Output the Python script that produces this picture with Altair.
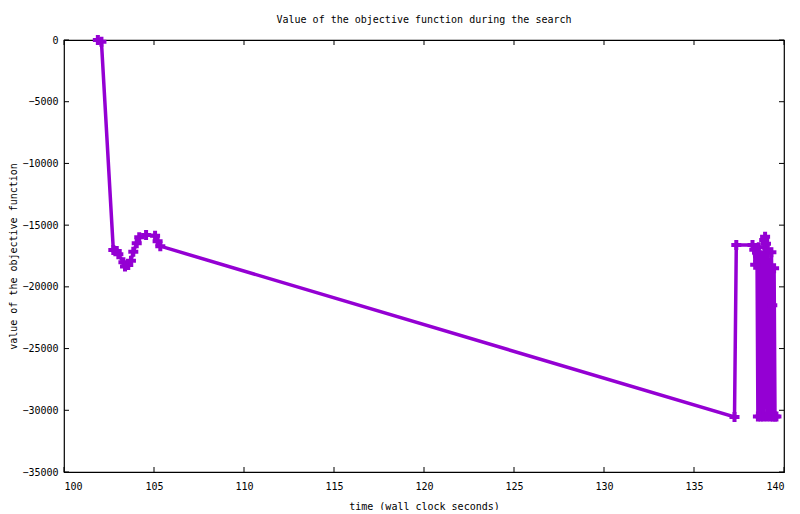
import altair as alt
import pandas as pd

# time (wall clock seconds)
times = [101.88, 102.08, 102.74, 102.93, 103.02, 103.30, 103.39, 103.57, 103.72,
         103.85, 104.04, 104.18, 104.56, 105.06, 105.20, 105.35,
         137.25, 137.35, 138.25,
         138.35, 138.40, 138.50, 138.55, 138.60, 138.70, 138.75, 138.85, 138.90,
         138.95, 139.00, 139.05, 139.10, 139.15, 139.20, 139.25, 139.30, 139.35,
         139.38, 139.45, 139.50, 139.58]
# value of the objective function
values = [0, -150, -17010, -17100, -17360, -18010, -18360, -18230, -17880,
          -17150, -16470, -15990, -15800, -15850, -16300, -16700,
          -30540, -16600, -16600,
          -17000, -18200, -17200, -30500, -16800, -30500, -17500, -30500, -16200,
          -15950, -16500, -30500, -17000, -30400, -18400, -30500, -17200, -21500,
          -30500, -18500, -30500, -30500]

x_ticks = [100, 105, 110, 115, 120, 125, 130, 135, 140]
y_ticks = [-35000, -30000, -25000, -20000, -15000, -10000, -5000, 0]

W, H = 720, 432
FONT = "DejaVu Sans Mono"
COLOR = "#9400D3"
TICK = 5

df = pd.DataFrame({"t": times, "v": values, "i": list(range(len(times)))})
xt = pd.DataFrame({"t": x_ticks})
yt = pd.DataFrame({"v": y_ticks})

xs = alt.Scale(domain=[100, 140], nice=False, zero=False)
ys = alt.Scale(domain=[-35000, 0], nice=False, zero=False)

xaxis = alt.Axis(values=x_ticks, tickSize=0, domain=False, grid=False,
                 labelPadding=9, titlePadding=10, format="d")
yaxis = alt.Axis(values=y_ticks, tickSize=0, domain=False, grid=False,
                 labelPadding=6, format="d",
                 titleX=-48, titleY=H / 2, titleAngle=270,
                 titleAlign="center", titleBaseline="alphabetic")

XT = "time (wall clock seconds)"
YT = "value of the objective function"

base = alt.Chart(df)
line = base.mark_line(color=COLOR, strokeWidth=3.5, strokeJoin="miter").encode(
    x=alt.X("t:Q", scale=xs, title=XT, axis=xaxis),
    y=alt.Y("v:Q", scale=ys, title=YT, axis=yaxis),
    order="i:Q",
)
pts = base.mark_point(shape="cross", filled=True, size=100, color=COLOR, opacity=1).encode(
    x=alt.X("t:Q", scale=xs, title=XT, axis=xaxis),
    y=alt.Y("v:Q", scale=ys, title=YT, axis=yaxis),
)

xb = alt.Chart(xt).mark_rule(color="black", strokeWidth=1).encode(
    x=alt.X("t:Q", scale=xs, title=XT, axis=xaxis),
    y=alt.value(H), y2=alt.value(H - TICK))
xtop = alt.Chart(xt).mark_rule(color="black", strokeWidth=1).encode(
    x=alt.X("t:Q", scale=xs, title=XT, axis=xaxis),
    y=alt.value(0), y2=alt.value(TICK))
yl = alt.Chart(yt).mark_rule(color="black", strokeWidth=1).encode(
    y=alt.Y("v:Q", scale=ys, title=YT, axis=yaxis),
    x=alt.value(0), x2=alt.value(TICK))
yr = alt.Chart(yt).mark_rule(color="black", strokeWidth=1).encode(
    y=alt.Y("v:Q", scale=ys, title=YT, axis=yaxis),
    x=alt.value(W - TICK), x2=alt.value(W))

chart = alt.layer(line, pts, xb, xtop, yl, yr).properties(
    width=W, height=H,
    background="white",
    title=alt.TitleParams("Value of the objective function during the search",
                          font=FONT, fontSize=10, fontWeight="normal", offset=8,
                          color="black"),
    autosize=alt.AutoSizeParams(type="none"),
    padding={"left": 56, "top": 32, "right": 8, "bottom": 38},
).configure_view(stroke="black", strokeWidth=1.2).configure_axis(
    labelFont=FONT, labelFontSize=10, labelColor="black",
    titleFont=FONT, titleFontSize=10, titleFontWeight="normal", titleColor="black",
)

chart.save("out.html", embed_options={"renderer": "svg", "actions": False})
